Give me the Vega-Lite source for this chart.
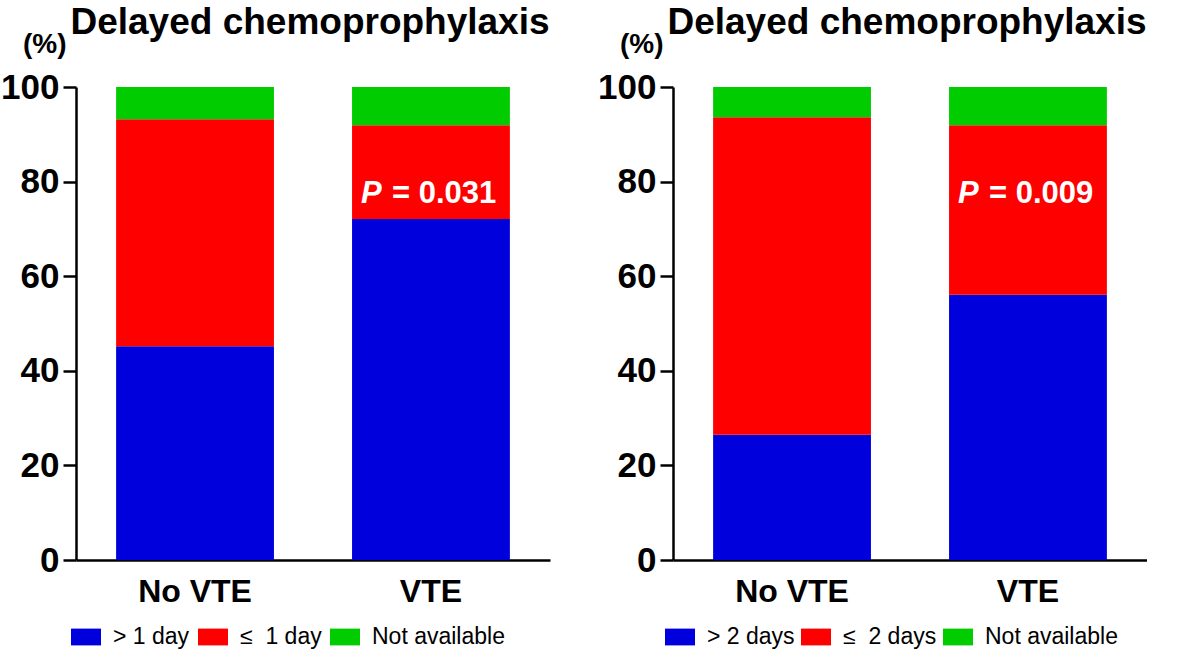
{
  "$schema": "https://vega.github.io/schema/vega-lite/v6.json",
  "background": "white",
  "padding": {"left": 0, "top": 4, "right": 0, "bottom": 0},
  "config": {
    "font": "Liberation Sans",
    "view": {"stroke": null},
    "concat": {"spacing": 47},
    "axis": {"grid": false, "domainColor": "black", "tickColor": "black", "labelColor": "black", "titleColor": "black", "domainWidth": 2.5, "tickWidth": 2.5},
    "title": {"fontSize": 37, "fontWeight": "bold", "color": "black", "frame": "group", "anchor": "middle"}
  },
  "datasets": {
    "left": [
      {"group": "No VTE", "category": "> 1 day", "rank": 1, "percent": 45.2},
      {"group": "No VTE", "category": "≤\u00a0 1 day", "rank": 2, "percent": 48.0},
      {"group": "No VTE", "category": "Not available", "rank": 3, "percent": 6.8},
      {"group": "VTE", "category": "> 1 day", "rank": 1, "percent": 72.1},
      {"group": "VTE", "category": "≤\u00a0 1 day", "rank": 2, "percent": 19.8},
      {"group": "VTE", "category": "Not available", "rank": 3, "percent": 8.1}
    ],
    "right": [
      {"group": "No VTE", "category": "> 2 days", "rank": 1, "percent": 26.5},
      {"group": "No VTE", "category": "≤\u00a0 2 days", "rank": 2, "percent": 67.1},
      {"group": "No VTE", "category": "Not available", "rank": 3, "percent": 6.4},
      {"group": "VTE", "category": "> 2 days", "rank": 1, "percent": 56.1},
      {"group": "VTE", "category": "≤\u00a0 2 days", "rank": 2, "percent": 35.8},
      {"group": "VTE", "category": "Not available", "rank": 3, "percent": 8.1}
    ],
    "pleft": [{"group": "VTE", "y": 77.4, "p": "P", "rest": "= 0.031"}],
    "pright": [{"group": "VTE", "y": 77.4, "p": "P", "rest": "= 0.009"}]
  },
  "hconcat": [
    {
      "width": 474,
      "height": 473,
      "title": {"text": "Delayed chemoprophylaxis", "offset": -12, "dx": -3},
      "layer": [
        {
          "data": {"name": "left"},
          "mark": {"type": "bar"},
          "encoding": {
            "x": {"field": "group", "type": "nominal", "sort": ["No VTE", "VTE"],
                  "scale": {"paddingInner": 0.331, "paddingOuter": 0.17},
                  "axis": {"title": null, "labelAngle": 0, "ticks": false, "labelFontSize": 32, "labelFontWeight": "bold", "labelPadding": 16}},
            "y": {"field": "percent", "type": "quantitative", "aggregate": "sum", "stack": "zero",
                  "scale": {"domain": [0, 100], "nice": false},
                  "axis": {"values": [0, 20, 40, 60, 80, 100], "tickSize": 13, "labelFontSize": 35, "labelFontWeight": "bold", "labelPadding": 4,
                           "title": "(%)", "titleAngle": 0, "titleFontSize": 28, "titleFontWeight": "bold", "titleAlign": "right", "titleBaseline": "bottom", "titleX": -10, "titleY": -29}},
            "order": {"field": "rank", "type": "quantitative"},
            "color": {"field": "category", "type": "nominal", "sort": ["> 1 day", "≤\u00a0 1 day", "Not available"],
                      "scale": {"domain": ["> 1 day", "≤\u00a0 1 day", "Not available"], "range": ["#0000DC", "#FF0000", "#00CC00"]},
                      "legend": {"title": null, "orient": "none", "direction": "horizontal", "legendX": -5, "legendY": 535,
                                 "symbolType": "M-1,-0.56H1V0.56H-1Z", "symbolSize": 900, "symbolStrokeWidth": 0, "symbolOpacity": 1,
                                 "labelFontSize": 23, "labelColor": "black", "labelOffset": 12, "columnPadding": 8}}
          }
        },
        {
          "data": {"name": "pleft"},
          "mark": {"type": "text", "color": "white", "fontSize": 31, "fontWeight": "bold", "fontStyle": "italic", "align": "left", "baseline": "middle", "dx": -70},
          "encoding": {
            "x": {"field": "group", "type": "nominal"},
            "y": {"field": "y", "type": "quantitative"},
            "text": {"field": "p"}
          }
        },
        {
          "data": {"name": "pleft"},
          "mark": {"type": "text", "color": "white", "fontSize": 31, "fontWeight": "bold", "align": "left", "baseline": "middle", "dx": -39},
          "encoding": {
            "x": {"field": "group", "type": "nominal"},
            "y": {"field": "y", "type": "quantitative"},
            "text": {"field": "rest"}
          }
        }
      ]
    },
    {
      "width": 474,
      "height": 473,
      "title": {"text": "Delayed chemoprophylaxis", "offset": -12, "dx": -3},
      "layer": [
        {
          "data": {"name": "right"},
          "mark": {"type": "bar"},
          "encoding": {
            "x": {"field": "group", "type": "nominal", "sort": ["No VTE", "VTE"],
                  "scale": {"paddingInner": 0.331, "paddingOuter": 0.17},
                  "axis": {"title": null, "labelAngle": 0, "ticks": false, "labelFontSize": 32, "labelFontWeight": "bold", "labelPadding": 16}},
            "y": {"field": "percent", "type": "quantitative", "aggregate": "sum", "stack": "zero",
                  "scale": {"domain": [0, 100], "nice": false},
                  "axis": {"values": [0, 20, 40, 60, 80, 100], "tickSize": 13, "labelFontSize": 35, "labelFontWeight": "bold", "labelPadding": 4,
                           "title": "(%)", "titleAngle": 0, "titleFontSize": 28, "titleFontWeight": "bold", "titleAlign": "right", "titleBaseline": "bottom", "titleX": -10, "titleY": -29}},
            "order": {"field": "rank", "type": "quantitative"},
            "color": {"field": "category", "type": "nominal", "sort": ["> 2 days", "≤\u00a0 2 days", "Not available"],
                      "scale": {"domain": ["> 2 days", "≤\u00a0 2 days", "Not available"], "range": ["#0000DC", "#FF0000", "#00CC00"]},
                      "legend": {"title": null, "orient": "none", "direction": "horizontal", "legendX": -8, "legendY": 535,
                                 "symbolType": "M-1,-0.56H1V0.56H-1Z", "symbolSize": 900, "symbolStrokeWidth": 0, "symbolOpacity": 1,
                                 "labelFontSize": 23, "labelColor": "black", "labelOffset": 12, "columnPadding": 6}}
          }
        },
        {
          "data": {"name": "pright"},
          "mark": {"type": "text", "color": "white", "fontSize": 31, "fontWeight": "bold", "fontStyle": "italic", "align": "left", "baseline": "middle", "dx": -70},
          "encoding": {
            "x": {"field": "group", "type": "nominal"},
            "y": {"field": "y", "type": "quantitative"},
            "text": {"field": "p"}
          }
        },
        {
          "data": {"name": "pright"},
          "mark": {"type": "text", "color": "white", "fontSize": 31, "fontWeight": "bold", "align": "left", "baseline": "middle", "dx": -39},
          "encoding": {
            "x": {"field": "group", "type": "nominal"},
            "y": {"field": "y", "type": "quantitative"},
            "text": {"field": "rest"}
          }
        }
      ]
    }
  ],
  "resolve": {"scale": {"color": "independent"}}
}
